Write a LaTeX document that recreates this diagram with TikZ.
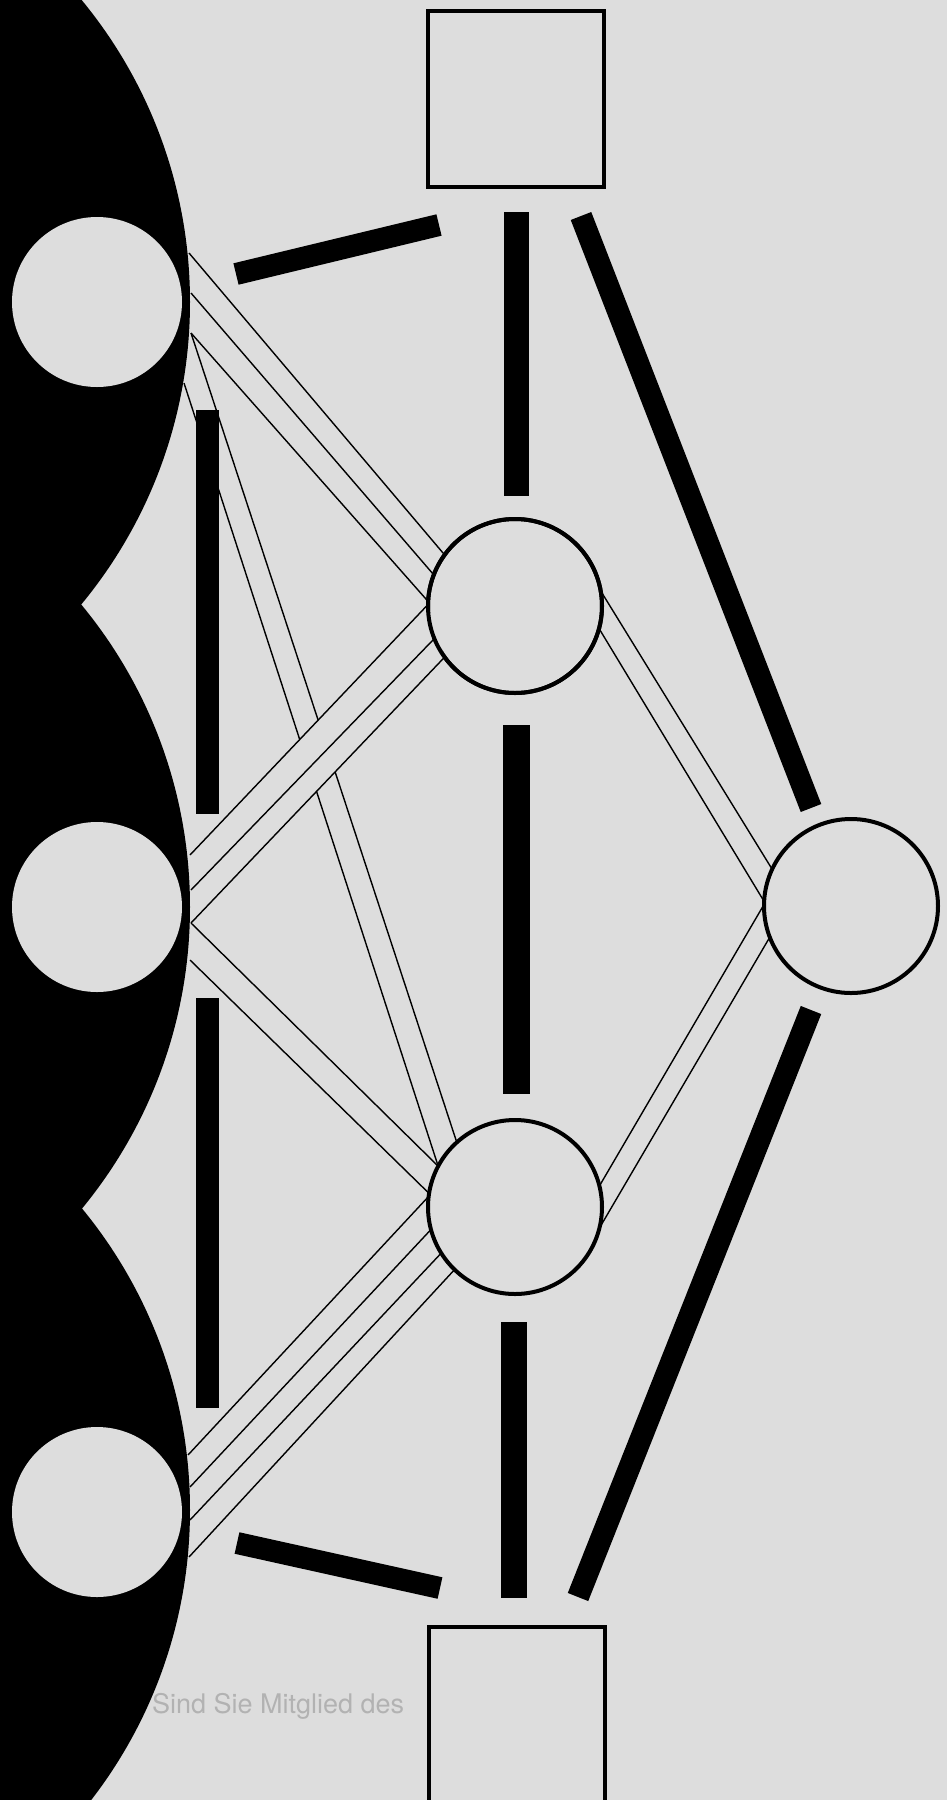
\documentclass[tikz,border=0pt]{standalone}
\usepackage{fontspec}
\setsansfont{TeX Gyre Heros}
\usepackage{xcolor}
\usepackage{tikz}
\usetikzlibrary{calc}
\definecolor{paper}{RGB}{221,221,221}

\begin{document}
\begin{tikzpicture}[x=0.5pt,y=-0.5pt,
  every node/.style={inner sep=0pt,outer sep=0pt},
  wire/.style={line width=0.7pt},
  bar/.style={line width=#1,line cap=butt},
  ring/.style={circle,draw,line width=2pt,fill=paper,minimum size=87pt},
  box/.style={rectangle,draw,line width=2pt,fill=paper,minimum size=88pt},
  hole/.style={circle,fill=paper,minimum size=85pt}]
  % page
  \fill[paper] (0,0) rectangle (947,1800);
  \useasboundingbox (0,0) rectangle (947,1800);
  % heading of the page underneath
  \node[anchor=west,text=black!30,font=\sffamily\fontsize{13.5}{16}\selectfont] (head) at (152,1706) {Sind Sie Mitglied des};
  % black wall with three bulges
  \begin{scope}
    \clip (0,0) rectangle (947,1800);
    \foreach \y in {302,907,1510}
      \fill (-285,\y) circle (237.5pt);
  \end{scope}
  % holes in the wall
  \node[hole] (tl) at (97,302) {};
  \node[hole] (ml) at (97,907) {};
  \node[hole] (bl) at (97,1512) {};
  % squares and rings
  \node[box] (top) at (516,99) {};
  \node[box] (bot) at (517,1715) {};
  \node[ring] (tm) at (515,606) {};
  \node[ring] (bm) at (515,1207) {};
  \node[ring] (rc) at (851,906) {};
  % where the wires leave the wall
  \coordinate (t1) at (189,253);
  \coordinate (t2) at (191,293);
  \coordinate (t3) at (191,333);
  \coordinate (t4) at (184,383);
  \coordinate (m1) at (190,855);
  \coordinate (m2) at (191,890);
  \coordinate (m3) at (191,923);
  \coordinate (m4) at (190,960);
  \coordinate (b1) at (188,1455);
  \coordinate (b2) at (190,1487);
  \coordinate (b3) at (190,1520);
  \coordinate (b4) at (189,1557);
  % top hole to lower ring (runs under the band)
  \draw[wire] (t3) -- (bm.132);
  \draw[wire] (t4) -- (bm.152);
  % band from middle hole to upper ring
  \fill[paper] (m1) -- (tm.179) -- (tm.216) -- (m3) -- cycle;
  \draw[wire] (m1) -- (tm.179);
  \draw[wire] (m2) -- (tm.202);
  \draw[wire] (m3) -- (tm.216);
  \draw[line width=2pt] (tm.center) circle (43.5pt);
  % top hole to upper ring
  \draw[wire] (t1) -- (tm.144);
  \draw[wire] (t2) -- (tm.159);
  \draw[wire] (t3) -- (tm.177);
  % middle hole to lower ring
  \draw[wire] (m3) -- (bm.152);
  \draw[wire] (m4) -- (bm.171);
  % bottom hole to lower ring
  \draw[wire] (b1) -- (bm.173);
  \draw[wire] (b2) -- (bm.195);
  \draw[wire] (b3) -- (bm.212);
  \draw[wire] (b4) -- (bm.226);
  % rings to right ring
  \draw[wire] (tm.10) -- (rc.155);
  \draw[wire] (tm.-15) -- (rc.177);
  \draw[wire] (rc.179) -- (bm.14);
  \draw[wire] (rc.201) -- (bm.-14);
  % thick bars
  \draw[bar=11pt] (236,274) -- (439,225);
  \draw[bar=12.5pt] (516.5,212) -- (516.5,496);
  \draw[bar=11pt] (581,216) -- (811,808);
  \draw[bar=11.5pt] (207.5,410) -- (207.5,814);
  \draw[bar=13.5pt] (516.5,725) -- (516.5,1094);
  \draw[bar=11.5pt] (207.5,998) -- (207.5,1408);
  \draw[bar=11pt] (811,1010) -- (578,1597);
  \draw[bar=13pt] (514,1322) -- (514,1598);
  \draw[bar=11pt] (237,1543) -- (440,1588);
\end{tikzpicture}
\end{document}
